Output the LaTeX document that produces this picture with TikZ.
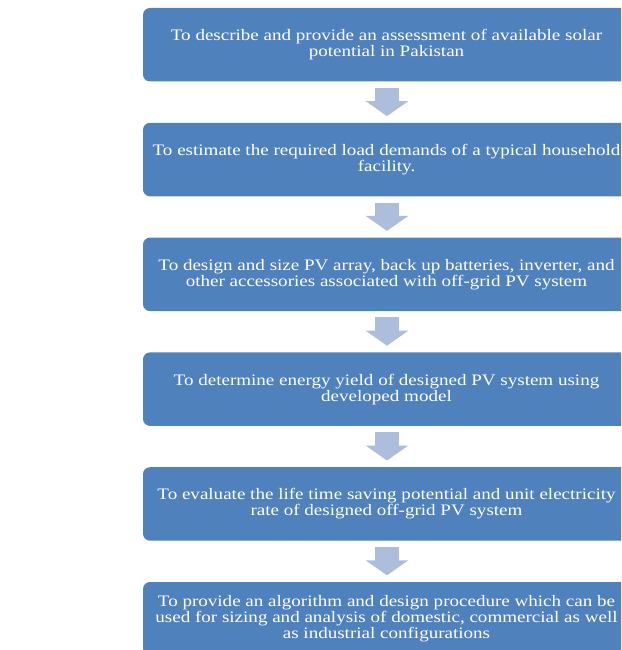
\documentclass[tikz,border=0pt]{standalone}
\usepackage{fontspec}
\setmainfont{Liberation Serif}[FakeStretch=1.19]
\usepackage{tikz}
\usetikzlibrary{arrows.meta}
\definecolor{boxblue}{RGB}{79,129,189}
\definecolor{arrowblue}{RGB}{172,190,220}

\begin{document}
\begin{tikzpicture}[x=1pt, y=-1pt,
        objbox/.style={fill=boxblue, rounded corners=7pt, minimum width=487pt, minimum height=73.5pt,
            text=white, align=center, font=\fontsize{16}{16}\selectfont},
        flowarrow/.style={draw=arrowblue, line width=24pt, -{Triangle[length=15pt, width=42pt]}}]
        \useasboundingbox (0,0) rectangle (621,650);
        \clip (0,0) rectangle (621,650);

        % Objectives (top to bottom)
        \node[objbox] (O1) at (386.5,44.75) {To describe and provide an assessment of available solar\\potential in Pakistan};
        \node[objbox] (O2) at (386.5,159.55) {To estimate the required load demands of a typical household\\facility.};
        \node[objbox] (O3) at (386.5,274.35) {To design and size PV array, back up batteries, inverter, and\\other accessories associated with off-grid PV system};
        \node[objbox] (O4) at (386.5,389.15) {To determine energy yield of designed PV system using\\developed model};
        \node[objbox] (O5) at (386.5,503.95) {To evaluate the life time saving potential and unit electricity\\rate of designed off-grid PV system};
        \node[objbox] (O6) at (386.5,618.75) {To provide an algorithm and design procedure which can be\\used for sizing and analysis of domestic, commercial as well\\as industrial configurations};

        % Block arrows
        \foreach \u/\v in {O1/O2, O2/O3, O3/O4, O4/O5, O5/O6} {
            \draw[flowarrow] ([xshift=0.5pt, yshift=-6pt]\u.south) -- ([xshift=0.5pt, yshift=6.5pt]\v.north);
        }

    \end{tikzpicture}
\end{document}
